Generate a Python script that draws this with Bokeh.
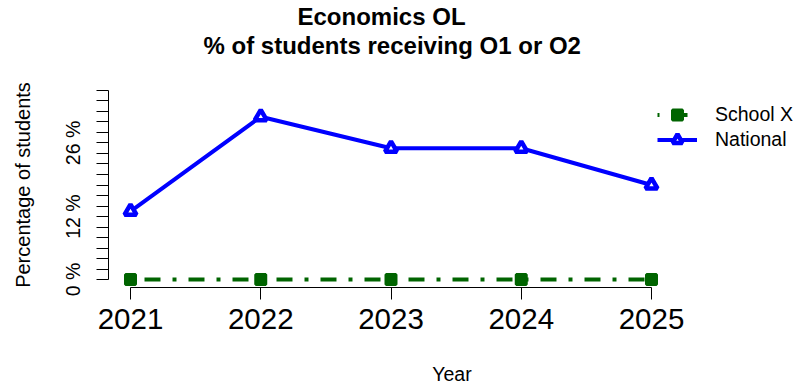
from bokeh.plotting import figure
from bokeh.models import Range1d, FixedTicker, Legend, LegendItem, Title
from bokeh.embed import file_html
from bokeh.resources import INLINE

# ---- data ----
years = [2021, 2022, 2023, 2024, 2025]
school_x = [0, 0, 0, 0, 0]
national = [13, 31, 25, 25, 18]
y_ticks = list(range(0, 37, 2))
y_tick_labels = {0: "0 %", 12: "12 %", 26: "26 %"}
series_names = ["School X", "National"]
title_lines = ["Economics OL", "% of students receiving O1 or O2"]
x_title = "Year"
y_title = "Percentage of students"

# ---- layout (page pixels) ----
W, H = 799, 387
px_per_year = 130.25
px_per_pct = 190 / 36
frame_left, frame_right = 108, 795
frame_top, frame_bottom = 81, 287
x0_px, y0_px = 130, 279
x_start = years[0] - (x0_px - frame_left) / px_per_year
x_end = years[0] + (frame_right - x0_px) / px_per_year
y_start = -(frame_bottom - y0_px) / px_per_pct
y_end = (y0_px - frame_top) / px_per_pct

GREEN = "#006400"
BLUE = "#0000FF"
FONT = "Liberation Sans"

p = figure(width=W, height=H, output_backend="svg", toolbar_location=None,
           x_range=Range1d(x_start, x_end), y_range=Range1d(y_start, y_end),
           min_border_left=frame_left, min_border_right=W - frame_right,
           min_border_top=frame_top, min_border_bottom=H - frame_bottom,
           title=title_lines[0])
p.outline_line_color = None
p.grid.visible = False
p.background_fill_color = "white"
p.border_fill_color = "white"

p.title.align = "left"
p.title.offset = 189
p.title.text_font = FONT
p.title.text_font_size = "24px"
p.title.text_font_style = "bold"
p.title.text_color = "black"
p.title.standoff = 0
# blank spacer between the titles and the plot area (closest to the frame)
spacer = Title(text=" ", text_font_size="1px", standoff=21)
p.add_layout(spacer, "above")
t2 = Title(text=title_lines[1], align="left", offset=95, text_font=FONT,
           text_font_size="24px", text_font_style="bold", text_color="black",
           standoff=0)
p.add_layout(t2, "above")

r1 = p.line(years, school_x, line_color=GREEN, line_width=4,
            line_dash="16 12 4 12", line_dash_offset=30)
s1 = p.scatter(years, school_x, marker="square", size=10, fill_color=GREEN,
               line_color=GREEN, line_width=3)
r2 = p.line(years, national, line_color=BLUE, line_width=4)
s2 = p.scatter(years, national, marker="triangle", size=12, fill_color="white",
               line_color=BLUE, line_width=4.5)

legend = Legend(items=[LegendItem(label=series_names[0], renderers=[r1, s1]),
                       LegendItem(label=series_names[1], renderers=[r2, s2])],
                location=(549, 135.5), glyph_width=40, glyph_height=25,
                label_standoff=18, padding=0, spacing=0, margin=0,
                border_line_color=None, background_fill_alpha=0,
                label_text_font=FONT, label_text_font_size="19.5px",
                label_text_color="black")
p.add_layout(legend)

xa = p.xaxis[0]
xa.ticker = FixedTicker(ticks=years)
xa.bounds = (years[0], years[-1])
xa.axis_line_color = "black"
xa.major_tick_line_color = "black"
xa.major_tick_out = 12
xa.major_tick_in = 0
xa.minor_tick_out = 0
xa.minor_tick_in = 0
xa.major_label_text_font = FONT
xa.major_label_text_font_size = "29.5px"
xa.major_label_text_color = "black"
xa.major_label_standoff = 9
xa.axis_label = x_title
xa.axis_label_text_font = FONT
xa.axis_label_text_font_size = "19.5px"
xa.axis_label_text_font_style = "normal"
xa.axis_label_text_color = "black"
xa.axis_label_standoff = 31

ya = p.yaxis[0]
ya.ticker = FixedTicker(ticks=y_ticks)
ya.bounds = (y_ticks[0], y_ticks[-1])
ya.axis_line_color = "black"
ya.major_tick_line_color = "black"
ya.major_tick_out = 12
ya.major_tick_in = 0
ya.minor_tick_out = 0
ya.minor_tick_in = 0
ya.major_label_overrides = {t: y_tick_labels.get(t, "") for t in y_ticks}
ya.major_label_orientation = "vertical"
ya.major_label_text_font = FONT
ya.major_label_text_font_size = "19.5px"
ya.major_label_text_color = "black"
ya.major_label_standoff = 12
ya.axis_label = y_title
ya.axis_label_text_font = FONT
ya.axis_label_text_font_size = "20px"
ya.axis_label_text_font_style = "normal"
ya.axis_label_text_color = "black"
ya.axis_label_standoff = 26

open("out.html", "w").write(file_html(p, INLINE))
